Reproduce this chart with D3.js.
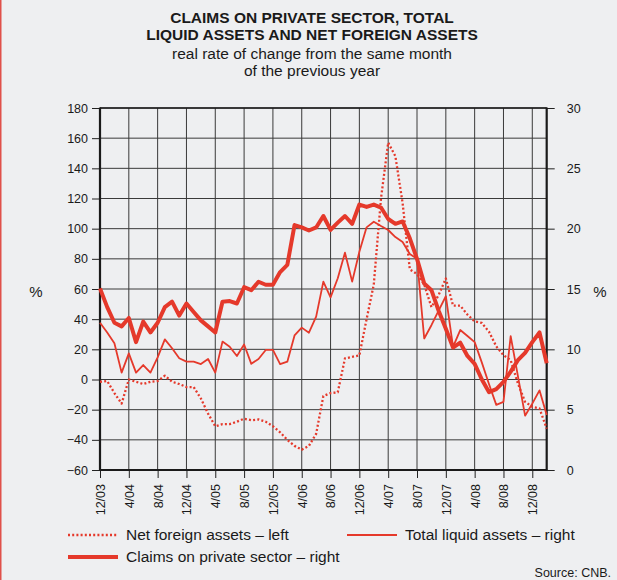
<!DOCTYPE html>
<html>
<head>
<meta charset="utf-8">
<script src="https://cdn.jsdelivr.net/npm/d3@7"></script>
<style>
html,body{margin:0;padding:0;background:#eeeff1;}
svg{display:block;font-family:"Liberation Sans",Arial,Helvetica,sans-serif;}
</style>
</head>
<body>
<svg id="chart" width="617" height="580"></svg>
<script>
// ---- data (monthly, 12/2003 .. 2/2009) ----
const startMonth = new Date(2003, 11, 1);
const months = d3.timeMonth.range(startMonth, new Date(2009, 2, 1)).map(d => (d.getMonth() + 1) + "/" + String(d.getFullYear()).slice(2));

// Net foreign assets, % (left axis)
const netForeignAssets = [
  -1.5, -1, -9, -16, 0, -1.5, -3, -1.5, -1, 2.5, -1.5, -3, -5,
  -5, -12.6, -22.6, -31, -29.6, -29.6, -28, -26, -27, -26.5, -28, -31,
  -35, -40, -44, -46.5, -44, -36, -11, -9, -8.5, 14, 15, 16,
  40, 63, 120, 157, 148, 117, 73, 70, 63, 48, 56, 67,
  49, 49, 43, 38.5, 37.5, 31.6, 22, 16.1, 12.8, -2.6, -14.8, -18.1,
  -19.2, -32.5
];
// Total liquid assets, % (right axis)
const totalLiquidAssets = [
  12.2, 11.4, 10.5, 8.07, 9.67, 8.07, 8.7, 8.07, 9.34, 10.83, 10.09, 9.26, 8.98,
  8.98, 8.78, 9.2, 8.07, 10.64, 10.22, 9.45, 10.4, 8.8, 9.2, 9.95, 9.95,
  8.78, 8.98, 11.15, 11.8, 11.38, 12.71, 15.61, 14.31, 15.89, 18.01, 15.61, 18.09,
  20.11, 20.58, 20.22, 19.89, 19.3, 18.9, 17.9, 17.5, 10.9, 12.0, 13.2, 14.4,
  10.2, 11.6, 11.1, 10.6, 8.9, 7.1, 5.4, 5.65, 11.1, 7.8, 4.5, 5.5,
  6.6, 4.55
];
// Claims on private sector, % (right axis)
const claimsPrivate = [
  15.05, 13.5, 12.2, 11.9, 12.6, 10.6, 12.3, 11.4, 12.2, 13.5, 13.95, 12.8, 13.8,
  13.1, 12.4, 11.9, 11.4, 13.95, 14.0, 13.8, 15.15, 14.9, 15.6, 15.35, 15.35,
  16.4, 17.0, 20.3, 20.1, 19.85, 20.1, 21.05, 19.9, 20.5, 21.05, 20.4, 22.0,
  21.8, 22.0, 21.75, 20.8, 20.4, 20.6, 19.2, 17.5, 15.45, 14.9, 13.2, 11.7,
  10.15, 10.55, 9.45, 8.8, 7.5, 6.45, 6.7, 7.3, 8.15, 9.1, 9.7, 10.6,
  11.4, 8.85
];

const xTickLabels = ["12/03","4/04","8/04","12/04","4/05","8/05","12/05","4/06","8/06","12/06","4/07","8/07","12/07","4/08","8/08","12/08"];
const leftTicks = [-60,-40,-20,0,20,40,60,80,100,120,140,160,180];
const rightTicks = [0,5,10,15,20,25,30];

const titleLines = ["CLAIMS ON PRIVATE SECTOR, TOTAL", "LIQUID ASSETS AND NET FOREIGN ASSETS"];
const subtitleLines = ["real rate of change from the same month", "of the previous year"];
const legendItems = [
  {label: "Net foreign assets \u2013 left", style: "dot"},
  {label: "Total liquid assets \u2013 right", style: "thin"},
  {label: "Claims on private sector \u2013 right", style: "thick"}
];

// ---- layout ----
const RED = "#e5392b";
const L = 100, R = 546.7, T = 108, B = 470;
const svg = d3.select("#chart");

svg.append("rect").attr("width", 617).attr("height", 580).attr("fill", "#eeeff1");
svg.append("line").attr("x1", 0.75).attr("x2", 0.75).attr("y1", 0).attr("y2", 580)
  .attr("stroke", "#e0504a").attr("stroke-width", 1.5);

const x = d3.scalePoint().domain(months).range([L, R]);
const yL = d3.scaleLinear().domain([-60, 180]).range([B, T]);
const yR = d3.scaleLinear().domain([0, 30]).range([B, T]);

// title
const tt = svg.append("g").attr("text-anchor", "middle").attr("fill", "#1a1a1a");
titleLines.forEach((t, i) => tt.append("text").attr("x", 312).attr("y", 23 + i * 16.5)
  .attr("font-size", 15.5).attr("font-weight", "bold").text(t));
subtitleLines.forEach((t, i) => tt.append("text").attr("x", 312).attr("y", 58.5 + i * 17)
  .attr("font-size", 15.5).text(t));

// grid
const grid = svg.append("g").attr("stroke", "#3a3a3a").attr("stroke-width", 1);
leftTicks.forEach(v => grid.append("line").attr("x1", L).attr("x2", R)
  .attr("y1", yL(v)).attr("y2", yL(v)));
xTickLabels.forEach(m => grid.append("line").attr("x1", x(m)).attr("x2", x(m))
  .attr("y1", T).attr("y2", B));

// axes
const axL = svg.append("g").attr("transform", `translate(${L},0)`)
  .call(d3.axisLeft(yL).tickValues(leftTicks).tickSize(8).tickPadding(4));
const axR = svg.append("g").attr("transform", `translate(${R},0)`)
  .call(d3.axisRight(yR).tickValues(rightTicks).tickSize(8).tickPadding(12));
const axB = svg.append("g").attr("transform", `translate(0,${B})`)
  .call(d3.axisBottom(x).tickValues(xTickLabels).tickSize(8).tickPadding(6));
[axL, axR, axB].forEach(a => {
  a.select(".domain").remove();
  a.selectAll(".tick line").attr("stroke", "#222").attr("stroke-width", 1);
  a.selectAll("text").attr("font-size", 12.5).attr("fill", "#1a1a1a")
    .attr("font-family", "'Liberation Sans',Arial,sans-serif");
});
axB.selectAll(".tick text")
  .attr("transform", "rotate(-90)")
  .attr("text-anchor", "end")
  .attr("x", -14).attr("y", 0).attr("dy", "0.35em");

// frame
svg.append("line").attr("x1", L).attr("x2", R).attr("y1", T).attr("y2", T).attr("stroke", "#1a1a1a").attr("stroke-width", 1.5);
svg.append("line").attr("x1", L - 0.5).attr("x2", R + 0.5).attr("y1", B).attr("y2", B).attr("stroke", "#1a1a1a").attr("stroke-width", 2.2);
svg.append("line").attr("x1", L).attr("x2", L).attr("y1", T - 0.5).attr("y2", B).attr("stroke", "#1a1a1a").attr("stroke-width", 2.2);
svg.append("line").attr("x1", R).attr("x2", R).attr("y1", T - 0.5).attr("y2", B).attr("stroke", "#1a1a1a").attr("stroke-width", 2.2);

// % labels
svg.append("text").attr("x", 36).attr("y", 297).attr("font-size", 15).attr("text-anchor", "middle").attr("fill", "#1a1a1a").text("%");
svg.append("text").attr("x", 600).attr("y", 297).attr("font-size", 15).attr("text-anchor", "middle").attr("fill", "#1a1a1a").text("%");

// series
const lineL = d3.line().x((d, i) => x(months[i])).y(d => yL(d));
const lineR = d3.line().x((d, i) => x(months[i])).y(d => yR(d));
const plot = svg.append("g").attr("fill", "none").attr("stroke", RED).attr("stroke-linejoin", "round");
plot.append("path").datum(netForeignAssets).attr("d", lineL)
  .attr("stroke-width", 2.3).attr("stroke-dasharray", "2,2.2");
plot.append("path").datum(totalLiquidAssets).attr("d", lineR)
  .attr("stroke-width", 1.8);
plot.append("path").datum(claimsPrivate).attr("d", lineR)
  .attr("stroke-width", 4);

// legend
const lg = svg.append("g").attr("font-size", 15.5).attr("fill", "#1a1a1a");
const legPos = [{x: 68, y: 535}, {x: 347, y: 535}, {x: 68, y: 557}];
legendItems.forEach((it, i) => {
  const p = legPos[i];
  const ln = lg.append("line").attr("x1", p.x).attr("x2", p.x + 50).attr("y1", p.y).attr("y2", p.y).attr("stroke", RED);
  if (it.style === "dot") ln.attr("stroke-width", 2.3).attr("stroke-dasharray", "2,2.2");
  if (it.style === "thin") ln.attr("stroke-width", 1.8);
  if (it.style === "thick") ln.attr("stroke-width", 4);
  lg.append("text").attr("x", p.x + 58).attr("y", p.y).attr("dy", "0.35em").text(it.label);
});
svg.append("text").attr("x", 611).attr("y", 577).attr("text-anchor", "end").attr("font-size", 12.5).attr("fill", "#1a1a1a").text("Source: CNB.");
</script>
</body>
</html>
